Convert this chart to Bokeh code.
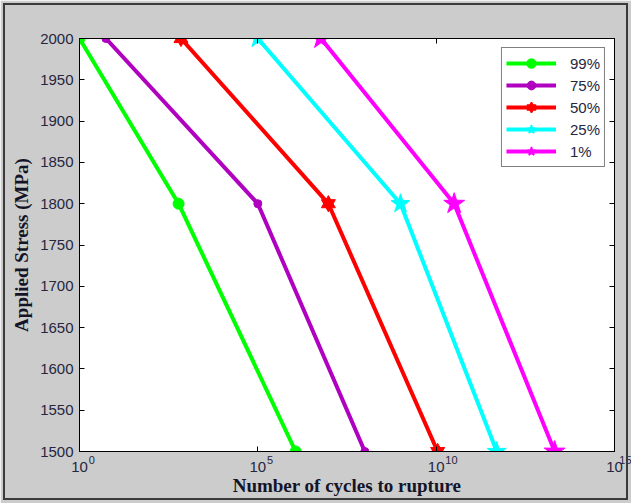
from bokeh.plotting import figure
from bokeh.models import (FixedTicker, CustomJSTickFormatter, LogAxis, LinearAxis, Legend, LegendItem,
                          Range1d, InlineStyleSheet)
from bokeh.embed import file_html
from bokeh.resources import INLINE

# ---- data ----
stress = [2000, 1800, 1500]
labels = ["99%", "75%", "50%", "25%", "1%"]
cycles_99 = [1.0, 6.0e2, 1.15e6]
cycles_75 = [5.5, 1.0e5, 1.0e8]
cycles_50 = [7.0e2, 9.5e6, 1.1e10]
cycles_25 = [1.0e5, 1.0e9, 5.0e11]
cycles_1 = [5.9e6, 3.2e10, 2.1e13]
x_ticks = [1, 1e5, 1e10, 1e15]
y_ticks = [1500, 1550, 1600, 1650, 1700, 1750, 1800, 1850, 1900, 1950, 2000]

BG = "#cccccc"
TXT = "#262640"

p = figure(frame_width=535, frame_height=413, x_axis_type="log",
           x_range=Range1d(1, 1e15), y_range=Range1d(1500, 2000),
           output_backend="svg", toolbar_location=None,
           background_fill_color="white", border_fill_color=BG,
           min_border_left=79, min_border_right=17, min_border_top=38, min_border_bottom=52)
p.stylesheets = [InlineStyleSheet(css="""
:host { position: relative; }
:host::after { content: ""; position: absolute; left: 3px; top: 3px; right: 3px; bottom: 3px;
  border: 2px solid #3a3a3a; z-index: 1000; pointer-events: none; }
""")]
p.outline_line_color = "black"
p.outline_line_width = 1
p.xgrid.visible = False
p.ygrid.visible = False
p.extra_y_ranges = {"legend_only": Range1d(0, 1)}

ten_fmt = CustomJSTickFormatter(code="return '10';")
# exponent text, padded on the left with figure spaces so that it sits to the right of "10"
exp_fmt = CustomJSTickFormatter(code="""
const e = String(Math.round(Math.log10(tick)));
return "\u2007".repeat(e.length + 3) + e;
""")
blank = CustomJSTickFormatter(code="return '';")

for ax in (p.xaxis[0], p.yaxis[0]):
    ax.major_tick_in = 5
    ax.major_tick_out = 0
    ax.minor_tick_in = 0
    ax.minor_tick_out = 0
    ax.axis_line_color = "black"
    ax.major_tick_line_color = "black"
    ax.major_label_text_font = "Liberation Sans"
    ax.major_label_text_font_size = "15px"
    ax.major_label_text_color = TXT
    ax.axis_label_text_font = "Liberation Serif"
    ax.axis_label_text_font_style = "bold"
    ax.axis_label_text_font_size = "19px"
    ax.axis_label_text_color = "#141428"

p.xaxis[0].ticker = FixedTicker(ticks=x_ticks, minor_ticks=[])
p.xaxis[0].formatter = ten_fmt
p.xaxis[0].major_label_standoff = 10
p.yaxis[0].ticker = FixedTicker(ticks=y_ticks, minor_ticks=[])
p.yaxis[0].major_label_standoff = 6
p.yaxis[0].axis_label = "Applied Stress (MPa)"
p.yaxis[0].axis_label_standoff = 5

exp_axis = LogAxis(ticker=FixedTicker(ticks=x_ticks, minor_ticks=[]), formatter=exp_fmt,
                   major_tick_in=0, major_tick_out=0, minor_tick_in=0, minor_tick_out=0,
                   axis_line_color=None, major_label_standoff=-21,
                   major_label_text_font="Liberation Sans", major_label_text_font_size="11px",
                   major_label_text_color=TXT,
                   axis_label="Number of cycles to rupture", axis_label_standoff=6,
                   axis_label_text_font="Liberation Serif", axis_label_text_font_style="bold",
                   axis_label_text_font_size="19px", axis_label_text_color="#141428")
p.add_layout(exp_axis, "below")

top = LogAxis(ticker=FixedTicker(ticks=x_ticks, minor_ticks=[]), formatter=blank,
              major_tick_in=5, major_tick_out=0, minor_tick_in=0, minor_tick_out=0,
              major_label_text_font_size="1px", major_label_standoff=0)
right = LinearAxis(ticker=FixedTicker(ticks=y_ticks, minor_ticks=[]), formatter=blank,
                   major_tick_in=5, major_tick_out=0, minor_tick_in=0, minor_tick_out=0,
                   major_label_text_font_size="1px", major_label_standoff=0)
p.add_layout(top, "above")
p.add_layout(right, "right")

LW = 4
items = []

def series(xs, color, marker, size, legend_lw=1):
    r = p.line(xs, stress, line_color=color, line_width=LW)
    for mk in marker:
        p.scatter(xs, stress, marker=mk, size=size, fill_color=color, line_color=color)
    # legend samples: same data on an off-screen range
    dummy = [p.scatter(xs, stress, marker=mk, size=size, fill_color=color, line_color=color,
                       line_width=legend_lw, y_range_name="legend_only") for mk in marker]
    return [r] + dummy

items.append(LegendItem(label=labels[0], renderers=series(cycles_99, "#00ff00", ["circle"], 11, 1.5)))
items.append(LegendItem(label=labels[1], renderers=series(cycles_75, "#b000c0", ["circle"], 8, 1)))
items.append(LegendItem(label=labels[2], renderers=series(cycles_50, "#ff0000", ["triangle", "inverted_triangle"], 14, 1.5)))
items.append(LegendItem(label=labels[3], renderers=series(cycles_25, "#00ffff", ["star"], 20, 1.5)))
items.append(LegendItem(label=labels[4], renderers=series(cycles_1, "#ff00ff", ["star"], 22, 1.5)))

legend = Legend(items=items, location="top_right", margin=9, padding=4, spacing=0,
                glyph_width=50, glyph_height=22, label_height=22, label_standoff=14,
                label_text_font="Liberation Sans", label_text_font_size="15px", label_text_color=TXT,
                border_line_color="black", border_line_width=1, background_fill_color="white",
                background_fill_alpha=1)
p.add_layout(legend)

open("out.html", "w", encoding="utf-8").write(file_html(p, INLINE))
